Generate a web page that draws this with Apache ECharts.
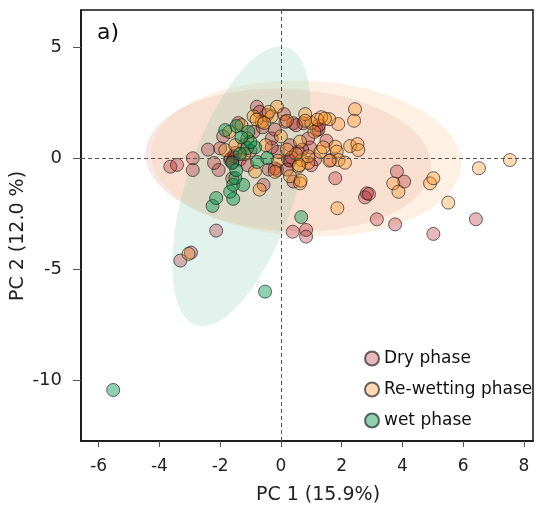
<!DOCTYPE html>
<html>
<head>
<meta charset="utf-8">
<script src="https://cdn.jsdelivr.net/npm/echarts@6/dist/echarts.min.js"></script>
<style>
  html, body { margin: 0; padding: 0; background: #fff; }
  #chart { width: 536px; height: 513px; }
</style>
</head>
<body>
<div id="chart"></div>
<script>
// PCA scores, [PC1, PC2] per sample
const dryPhase = [
  [-3.64,-0.37],[-3.42,-0.29],[-2.9,0.01],[-2.9,-0.52],[-2.05,-0.52],[-2.0,0.46],
  [-1.67,-0.07],[-1.55,0.1],[-1.35,-0.05],[-1.2,0.6],[-0.79,2.33],[-0.46,1.96],
  [-0.9,1.2],[-0.57,-1.19],[-0.3,0.9],[-0.1,0.3],[0.25,-0.07],[0.41,1.59],
  [0.74,1.59],[1.18,1.28],[1.24,1.31],[0.96,0.5],[1.13,-0.04],[1.64,-0.07],
  [0.41,-1.04],[-0.13,-0.52],[1.79,-0.89],[0.83,-3.22],[0.83,-3.52],[0.39,-3.3],
  [3.82,-0.59],[4.06,-1.04],[2.83,-1.57],[2.77,-1.75],[2.9,-1.6],[3.16,-2.74],
  [3.76,-2.97],[5.02,-3.4],[6.42,-2.74],[-2.13,-3.25],[-3.31,-4.6],[-2.96,-4.24],
  [-1.6,-0.9],[-1.9,1.0],[-0.6,1.4],[0.1,2.0],[0.55,0.3],[-1.0,0.35],
  [-0.4,-0.5],[0.9,0.9],[-2.4,0.4],[-1.4,1.6],[0.3,0.6],[1.5,0.8],[-0.2,1.3],
  [-1.65,0.0],[-1.6,-0.15],[-1.5,0.25],[0.3,-0.1],[0.35,0.05],[-0.2,-0.45],
  [0.5,1.5],[0.15,1.65],[-0.7,2.1],[1.25,1.5],[-0.3,0.5],[0.7,0.4],
  [-1.1,-0.3],[1.0,-0.3],[0.2,-0.5],[-2.2,-0.2]
];
const rewettingPhase = [
  [2.44,2.22],[2.41,1.70],[1.89,1.55],[1.59,1.77],[1.33,1.86],[2.28,0.56],
  [2.52,0.65],[2.55,0.38],[1.79,0.53],[1.84,0.31],[1.9,-0.07],[2.11,-0.19],
  [7.54,-0.07],[6.52,-0.44],[3.70,-1.12],[3.87,-1.5],[4.91,-1.12],[5.02,-0.89],
  [5.51,-1.99],[1.86,-2.24],[-3.04,-4.3],[-0.13,2.33],[-0.63,1.66],[-1.83,0.38],
  [0.63,0.76],[0.69,-0.07],[0.58,-0.37],[0.63,-1.12],[-0.85,-0.59],[-1.3,1.5],
  [-0.3,1.9],[0.2,1.7],[-0.9,1.9],[1.0,1.6],[0.5,0.2],[-0.5,0.6],
  [-1.1,0.9],[0.9,-0.2],[1.3,0.3],[-0.1,-0.1],[-1.5,0.6],[0.3,-0.8],
  [-0.7,-1.4],[1.1,1.2],[0.0,1.0],[-1.7,1.2],[-0.4,2.1],[0.8,2.0],
  [0.8,1.7],[1.2,1.75],[1.45,1.8],[0.6,-0.3],[0.65,-1.0],[0.9,0.1],
  [-0.8,1.75],[-0.55,1.6],[1.4,0.5],[-1.2,0.2],[0.2,0.4],[-0.2,-0.6],[1.6,-0.1]
];
const wetPhase = [
  [-5.52,-10.43],[-0.52,-6.0],[0.67,-2.64],[-2.25,-2.14],[-2.13,-1.78],[-1.57,-1.82],
  [-1.67,-1.5],[-1.57,-1.19],[-1.24,-1.19],[-1.5,-0.88],[-1.47,-0.52],[-0.78,-0.16],
  [-0.45,0.02],[-1.11,0.47],[-0.85,0.5],[-1.0,0.74],[-1.07,1.2],[-1.46,1.46],
  [-1.83,1.28],[-1.35,0.2],[-1.6,-0.2],[-1.3,0.95]
];

// Group ellipses: centre, first and second half-axis vectors (PC units)
const ellipseCentres = [[0.25,-0.07],[0.83,0.0],[-1.3,-1.25]];
const ellipseAxisA  = [[4.7,-0.35],[5.1,-0.3],[1.5,6.25]];
const ellipseAxisB  = [[0.12,3.2],[0.1,3.5],[1.71,-0.77]];
const ellipseFills  = ['rgba(220,135,120,0.2)','rgba(250,190,130,0.22)','rgba(120,200,170,0.22)'];

const xTicks = [-6,-4,-2,0,2,4,6,8];
const yTicks = [-10,-5,0,5];
const groupNames = ['Dry phase','Re-wetting phase','wet phase'];
const groupColors = ['rgba(178,34,44,0.4)','rgba(255,140,20,0.4)','rgba(0,150,75,0.55)'];

const FONT = 'DejaVu Sans';
const chart = echarts.init(document.getElementById('chart'), null, {renderer: 'canvas'});

function ellipseItem(params, api) {
  const i = api.value(0);
  const c = ellipseCentres[i], a = ellipseAxisA[i], b = ellipseAxisB[i];
  const pts = [];
  for (let k = 0; k < 120; k++) {
    const t = k / 120 * Math.PI * 2;
    pts.push(api.coord([
      c[0] + a[0] * Math.cos(t) + b[0] * Math.sin(t),
      c[1] + a[1] * Math.cos(t) + b[1] * Math.sin(t)
    ]));
  }
  return { type: 'polygon', shape: { points: pts }, style: { fill: ellipseFills[i] } };
}

const pointStyle = (i) => ({ color: groupColors[i], borderColor: 'rgba(20,20,20,0.8)', borderWidth: 1 });

chart.setOption({
  animation: false,
  grid: { left: 81, top: 10, right: 3, bottom: 72, show: true, borderColor: '#111', borderWidth: 1.5, backgroundColor: 'transparent' },
  xAxis: {
    type: 'value', min: -6.58, max: 8.3,
    splitLine: { show: false },
    axisLine: { show: true, onZero: false, lineStyle: { color: '#111', width: 1.5 } },
    axisTick: { show: true, length: 6, customValues: xTicks, lineStyle: { color: '#555' } },
    axisLabel: { customValues: xTicks, margin: 17, color: '#222', fontFamily: FONT, fontSize: 17 }
  },
  yAxis: {
    type: 'value', min: -12.73, max: 6.69,
    splitLine: { show: false },
    axisLine: { show: true, onZero: false, lineStyle: { color: '#111', width: 1.5 } },
    axisTick: { show: true, length: 8, customValues: yTicks, lineStyle: { color: '#555' } },
    axisLabel: { customValues: yTicks, margin: 19, color: '#222', fontFamily: FONT, fontSize: 18 }
  },
  legend: {
    data: groupNames, orient: 'vertical', left: 364, top: 350, padding: 0,
    icon: 'circle', itemWidth: 14, itemHeight: 14, itemGap: 14,
    textStyle: { fontFamily: FONT, fontSize: 17, color: '#111', lineHeight: 17 }
  },
  graphic: [
    { type: 'text', left: 97, top: 22, style: { text: 'a)', font: '22px "DejaVu Sans"', fill: '#111' } },
    { type: 'text', x: 318, y: 495, style: { text: 'PC 1 (15.9%)', font: '19px "DejaVu Sans"', fill: '#222', align: 'center', verticalAlign: 'middle' } },
    { type: 'text', x: 18, y: 236, rotation: Math.PI / 2, style: { text: 'PC 2 (12.0 %)', font: '19px "DejaVu Sans"', fill: '#222', align: 'center', verticalAlign: 'middle' } }
  ],
  series: [
    { type: 'custom', silent: true, renderItem: ellipseItem, data: [[0],[1],[2]], z: 1,
      markLine: { silent: true, symbol: 'none', label: { show: false },
        lineStyle: { color: '#555', type: [4, 3], width: 1 },
        data: [{ xAxis: 0 }, { yAxis: 0 }] } },
    { name: groupNames[0], type: 'scatter', symbolSize: 13, data: dryPhase, itemStyle: pointStyle(0), z: 3 },
    { name: groupNames[1], type: 'scatter', symbolSize: 13, data: rewettingPhase, itemStyle: pointStyle(1), z: 3 },
    { name: groupNames[2], type: 'scatter', symbolSize: 13, data: wetPhase, itemStyle: pointStyle(2), z: 3 }
  ]
});
</script>
</body>
</html>
